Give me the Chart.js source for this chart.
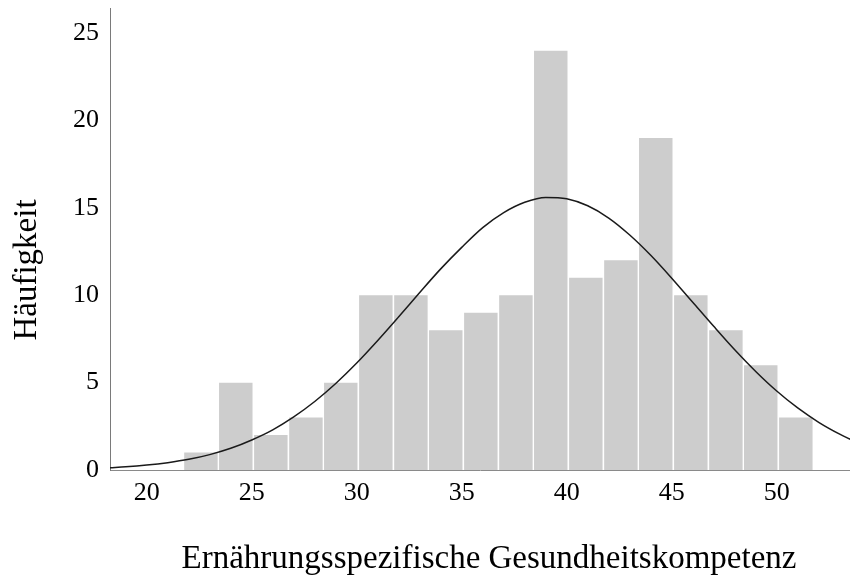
<!DOCTYPE html>
<html>
<head>
<meta charset="utf-8">
<script src="https://cdn.jsdelivr.net/npm/chart.js@4/dist/chart.umd.min.js"></script>
<style>
    body { margin: 0; background: #fff; }
    #wrap { width: 850px; height: 585px; position: relative; }
</style>
</head>
<body>
<div id="wrap"><canvas id="Chart1"></canvas></div>
<script>
// bin centres of the histogram (bin width 5/3)
var binCenters = [22.58, 24.24, 25.91, 27.58, 29.24, 30.91, 32.58, 34.24, 35.91, 37.58, 39.24, 40.91, 42.58, 44.24, 45.91, 47.58, 49.24, 50.91];
var binCounts = [1, 5, 2, 3, 5, 10, 10, 8, 9, 10, 24, 11, 12, 19, 10, 8, 6, 3];

// normal curve
var curveX = [18.25, 19, 20, 21, 22, 23, 24, 25, 26, 27, 28, 29, 30, 31, 32, 33, 34, 35, 36, 37, 38, 39, 40, 41, 42, 43, 44, 45, 46, 47, 48, 49, 50, 51, 52, 53, 53.5];
var curveY = [0.13, 0.18, 0.28, 0.42, 0.61, 0.88, 1.24, 1.72, 2.3, 3.04, 3.92, 4.95, 6.12, 7.41, 8.77, 10.16, 11.51, 12.74, 13.87, 14.73, 15.32, 15.6, 15.52, 15.12, 14.42, 13.45, 12.29, 10.98, 9.6, 8.22, 6.88, 5.64, 4.52, 3.55, 2.73, 2.05, 1.76];

var xTicks = [20, 25, 30, 35, 40, 45, 50];
var yTicks = [0, 5, 10, 15, 20, 25];

var xTitle = 'Ernährungsspezifische Gesundheitskompetenz';
var yTitle = 'Häufigkeit';

var serif = "'Liberation Serif', 'Times New Roman', serif";

var titlePlugin = {
    id: 'axisTitles',
    afterDraw: function (chart) {
        var c = chart.ctx;
        c.save();
        c.fillStyle = '#000';
        c.font = '33px ' + serif;
        c.textAlign = 'center';
        c.textBaseline = 'alphabetic';
        c.fillText(xTitle, 489, 568);
        c.translate(36, 270);
        c.rotate(-Math.PI / 2);
        c.fillText(yTitle, 0, 0);
        c.restore();
    }
};

var ctx1 = document.getElementById("Chart1");

var crt1 = new Chart(ctx1, {
    type: 'bar',
    data: {
        datasets: [{
            type: 'line',
            label: 'Normal',
            data: curveX.map(function (v, i) { return {x: v, y: curveY[i]}; }),
            borderColor: '#1a1a1a',
            borderWidth: 1.5,
            pointRadius: 0,
            cubicInterpolationMode: 'monotone',
            fill: false,
        }, {
            label: 'Häufigkeit',
            data: binCenters.map(function (v, i) { return {x: v, y: binCounts[i]}; }),
            backgroundColor: '#cdcdcd',
            borderWidth: 0,
            barPercentage: 0.96,
            categoryPercentage: 1,
        }],
    },
    options: {
        responsive: true,
        maintainAspectRatio: false,
        animation: false,
        layout: { padding: { top: 8, right: 0, left: 0, bottom: 0 } },
        plugins: {
            legend: { display: false },
            tooltip: { enabled: false },
        },
        scales: {
            x: {
                type: 'linear',
                offset: false,
                min: 18.25,
                max: 53.49,
                grid: { display: false, drawTicks: false },
                border: { display: true, color: '#8a8a8a', width: 1 },
                afterBuildTicks: function (scale) {
                    scale.ticks = xTicks.map(function (v) { return {value: v}; });
                },
                afterFit: function (scale) {
                    scale.height = 115;
                    scale.paddingLeft = 0;
                    scale.paddingRight = 0;
                },
                ticks: {
                    color: '#000',
                    padding: 8,
                    maxRotation: 0,
                    font: { family: serif, size: 26 },
                },
            },
            y: {
                min: 0,
                max: 26.44,
                grid: { display: false, drawTicks: false },
                border: { display: true, color: '#7a7a7a', width: 1 },
                afterBuildTicks: function (scale) {
                    scale.ticks = yTicks.map(function (v) { return {value: v}; });
                },
                afterFit: function (scale) {
                    scale.width = 110;
                    scale.paddingTop = 0;
                    scale.paddingBottom = 0;
                },
                ticks: {
                    color: '#000',
                    padding: 11,
                    font: { family: serif, size: 26 },
                },
            },
        },
    },
    plugins: [titlePlugin],
});
</script>
</body>
</html>
